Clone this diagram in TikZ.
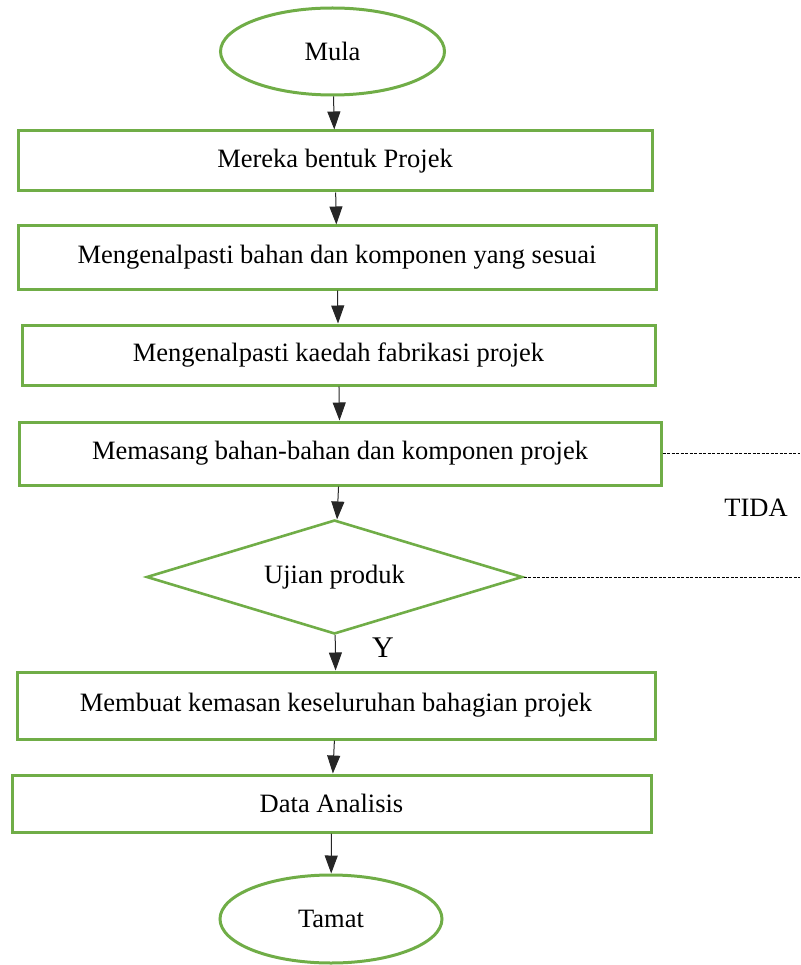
\documentclass[tikz,border=0pt]{standalone}
\usepackage{fontspec}
\setmainfont{Liberation Serif}
\usetikzlibrary{arrows.meta,shapes.geometric,positioning}
\definecolor{hijau}{HTML}{70AD47}
\tikzset{every node/.style={font=\fontsize{26.5}{30}\selectfont}, % Text size of all labels
        proses/.style={ % Box for each step
            rectangle, draw=hijau, line width=3pt,
            minimum height=60pt, inner sep=0pt},
        terminal/.style={ % Start and end
            ellipse, draw=hijau, line width=3pt,
            minimum width=224pt, minimum height=87pt, inner sep=0pt},
        keputusan/.style={ % Decision
            diamond, draw=hijau, line width=2.6pt, shape aspect=3.3,
            minimum width=376pt, minimum height=114pt, inner sep=0pt},
        putus/.style={ % Dotted line on the right
            draw, dash pattern=on 3pt off 1.5pt, line width=0.8pt},
        every edge/.style={ % Sets the properties for each connector
            draw,
            -{Triangle[length=18pt,width=13pt]},
            line width=1pt, black!85}
        }
\begin{document}
\begin{tikzpicture}[x=1pt, y=-1pt]
    \useasboundingbox (0,0) rectangle (800,965);

    \node[terminal]                                    (mula)   at (332.5,51.5) {Mula};
    \node[proses, minimum width=634pt]                 (reka)   at (335,161)    {Mereka bentuk Projek};
    \node[proses, minimum width=638pt, minimum height=63pt] (kenal) at (337,257.5) {Mengenalpasti bahan dan komponen yang sesuai};
    \node[proses, minimum width=633pt]                 (kaedah) at (338.5,355)  {Mengenalpasti kaedah fabrikasi projek};
    \node[proses, minimum width=642pt, minimum height=63pt] (pasang) at (340,453.5) {Memasang bahan-bahan dan komponen projek};
    \node[keputusan]                                   (ujian)  at (334.5,577)  {Ujian produk};
    \node[proses, minimum width=638pt, minimum height=67pt] (kemas) at (336,705.5) {Membuat kemasan keseluruhan bahagian projek};
    \node[proses, minimum width=639pt, minimum height=57pt] (data) at (331.5,803.5) {Data Analisis};
    \node[terminal, minimum width=222pt, minimum height=88pt] (tamat) at (331,919) {Tamat};

    \node (tida) at (756,508) {TIDA};
    \node[font=\fontsize{30}{34}\selectfont] (ya) at (383,648) {Y};

    \coordinate (hujung1) at (800,453.5);
    \coordinate (hujung2) at (800,577);

    \draw (mula)   edge (reka);
    \draw (reka)   edge (kenal);
    \draw (kenal)  edge (kaedah);
    \draw (kaedah) edge (pasang);
    \draw (pasang) edge (ujian);
    \draw (ujian)  edge (kemas);
    \draw (kemas)  edge (data);
    \draw (data)   edge (tamat);

    \draw[putus] (pasang.east) -- (hujung1);
    \draw[putus] (ujian.east)  -- (hujung2);
\end{tikzpicture}
\end{document}
